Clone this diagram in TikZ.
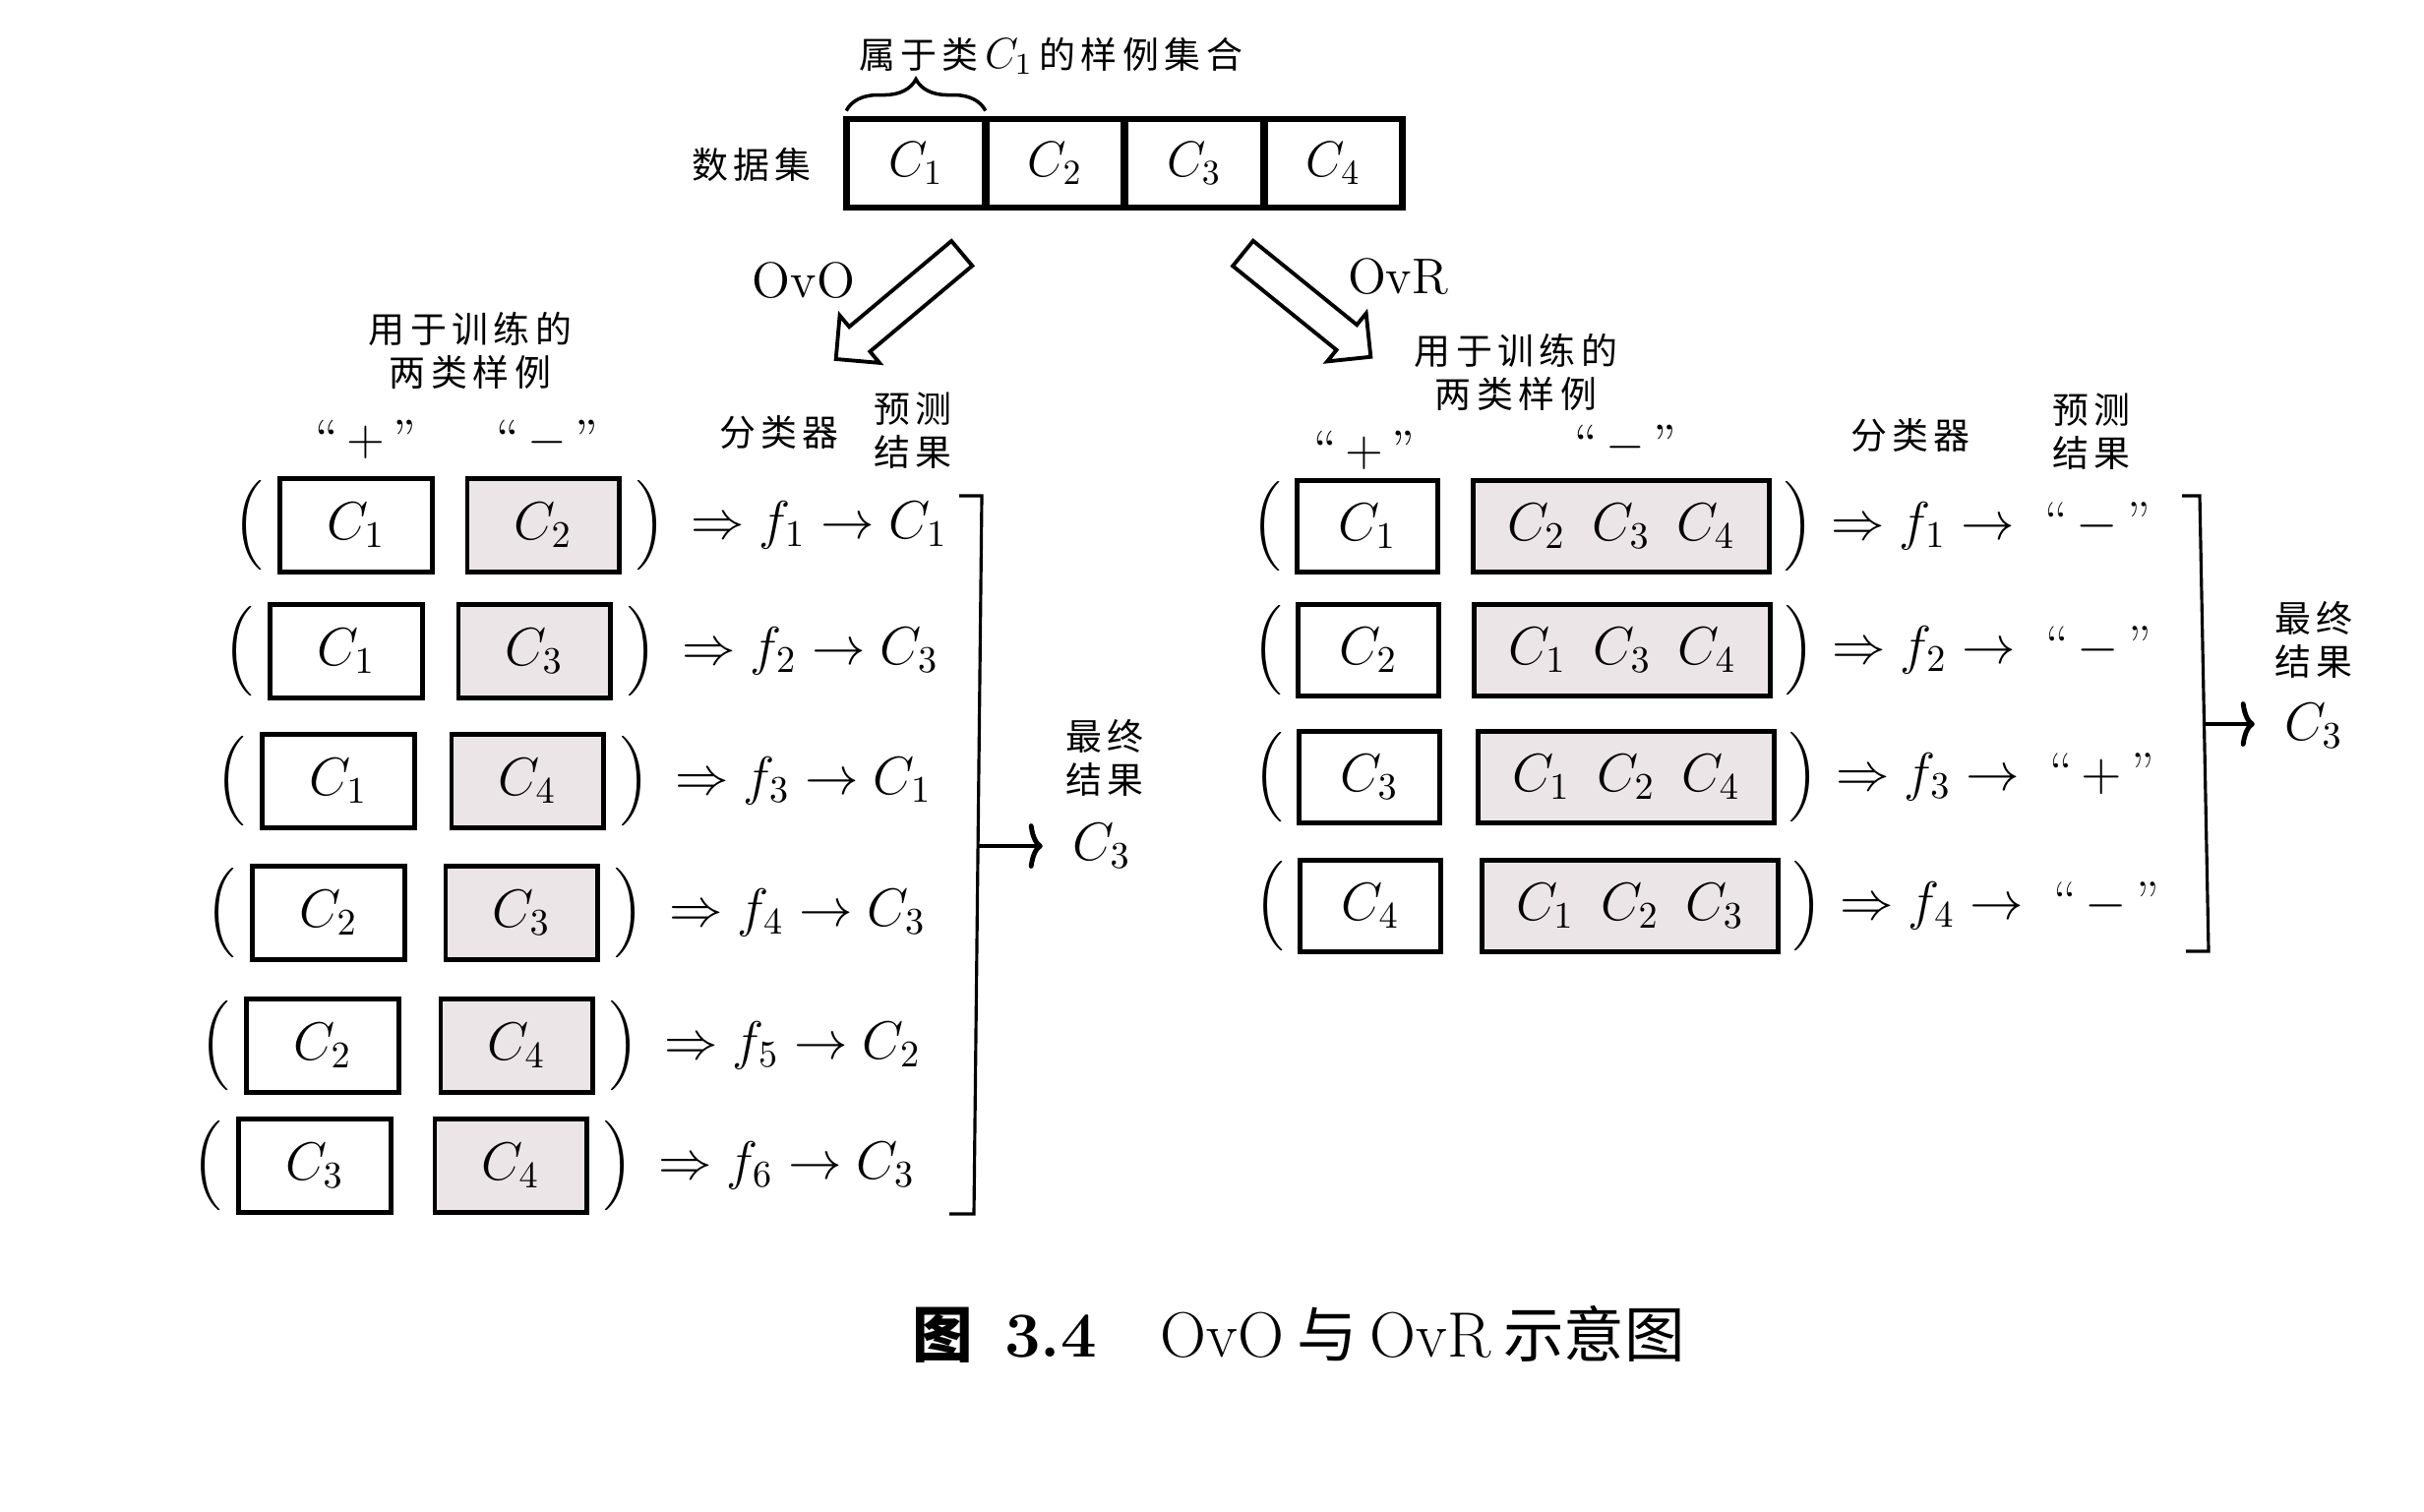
\RequirePackage{fix-cm}
\documentclass[tikz,border=0pt]{standalone}
\usepackage{amsmath}
\usepackage{fontspec}
\newfontfamily\cjk[LetterSpace=15]{Noto Sans CJK SC}
\newfontfamily\cjkcap{Noto Sans CJK SC}
\usetikzlibrary{positioning,shapes.arrows,decorations.pathreplacing,arrows.meta}
\definecolor{negfill}{RGB}{236,229,231}
\newcommand{\lbig}{$\left(\vcenter{\hrule height 0.95cm width 0pt}\right.$}
\newcommand{\rbig}{$\left.\vcenter{\hrule height 0.95cm width 0pt}\right)$}

\tikzset{
  cls/.style={draw, line width=1.4pt, inner sep=0pt, font=\fontsize{15.5}{18}\selectfont},
  posbox/.style={cls, minimum width=1.54cm, minimum height=0.95cm},
  negbox/.style={posbox, fill=negfill},
  posboxr/.style={cls, minimum width=1.43cm, minimum height=0.93cm},
  negboxr/.style={cls, fill=negfill, minimum width=3cm, minimum height=0.93cm},
  cell/.style={draw, line width=1.1pt, minimum width=1.375cm, minimum height=0.87cm, inner sep=0pt},
  zh/.style={font=\cjk\fontsize{10.5}{12.5}\selectfont, align=center, inner sep=0pt},
  par/.style={inner sep=0pt},
  pred/.style={inner sep=0pt, font=\fontsize{15.5}{18}\selectfont},
  hollow/.style={single arrow, draw, line width=1.1pt, minimum height=1.67cm, inner sep=0.145cm, single arrow head extend=0.15cm},
  bracket/.style={line width=0.9pt},
  final/.style={line width=1.4pt, -{Computer Modern Rightarrow[length=4pt, width=13pt]}, shorten >=0.2cm}
}

\begin{document}
\begin{tikzpicture}[x=0.01cm, y=-0.01cm, font=\fontsize{14.5}{17}\selectfont]
\useasboundingbox (0,0) rectangle (2464,1536);

% data set
\node[zh] (ds) at (764,167) {数据集};
\node[cell] (d1) at (931,166) {$C_1$};
\node[cell, right=0pt of d1] (d2) {$C_2$};
\node[cell, right=0pt of d2] (d3) {$C_3$};
\node[cell, right=0pt of d3] (d4) {$C_4$};
\draw[line width=1.6pt] (d1.north west) rectangle (d4.south east);
\draw[line width=1pt, decorate, decoration={brace, amplitude=0.32cm}]
  ([yshift=0.08cm]d1.north west) -- ([yshift=0.08cm]d1.north east);
\node[zh] (c1set) at (1068,57) {属于类\,{\fontsize{12.5}{14}\selectfont$C_1$}\,的样例集合};

% OvO / OvR
\node[hollow, rotate=220] (ovo) at (920,306) {};
\node (ovolab) at (817,285) {OvO};
\node[hollow, rotate=-39] (ovr) at (1322,305) {};
\node (ovrlab) at (1421,281) {OvR};

% OvO side
\node[zh] (trainL) at (478,356) {用于训练的\\两类样例};
\node (plusL) at (372,447) {$\text{“}\,{+}\,\text{”}$};
\node (minusL) at (556,447) {$\text{“}\,{-}\,\text{”}$};
\node[zh] (clfL) at (792,440) {分类器};
\node[zh] (predL) at (928,438) {预测\\结果};

\node[posbox] (p1) at (362,534) {$C_1$};
\node[negbox] (n1) at (552,534) {$C_2$};
\node[par, left=0.1cm of p1] (lp1) {\lbig};
\node[par, right=0.1cm of n1] (rp1) {\rbig};
\node[pred, right=0.7cm of n1] (f1) {$\Rightarrow f_1 \rightarrow C_1$};

\node[posbox] (p2) at (352,662) {$C_1$};
\node[negbox] (n2) at (543,662) {$C_3$};
\node[par, left=0.1cm of p2] (lp2) {\lbig};
\node[par, right=0.1cm of n2] (rp2) {\rbig};
\node[pred, right=0.7cm of n2] (f2) {$\Rightarrow f_2 \rightarrow C_3$};

\node[posbox] (p3) at (344,794) {$C_1$};
\node[negbox] (n3) at (536,794) {$C_4$};
\node[par, left=0.1cm of p3] (lp3) {\lbig};
\node[par, right=0.1cm of n3] (rp3) {\rbig};
\node[pred, right=0.7cm of n3] (f3) {$\Rightarrow f_3 \rightarrow C_1$};

\node[posbox] (p4) at (334,928) {$C_2$};
\node[negbox] (n4) at (530,928) {$C_3$};
\node[par, left=0.1cm of p4] (lp4) {\lbig};
\node[par, right=0.1cm of n4] (rp4) {\rbig};
\node[pred, right=0.7cm of n4] (f4) {$\Rightarrow f_4 \rightarrow C_3$};

\node[posbox] (p5) at (328,1063) {$C_2$};
\node[negbox] (n5) at (525,1063) {$C_4$};
\node[par, left=0.1cm of p5] (lp5) {\lbig};
\node[par, right=0.1cm of n5] (rp5) {\rbig};
\node[pred, right=0.7cm of n5] (f5) {$\Rightarrow f_5 \rightarrow C_2$};

\node[posbox] (p6) at (320,1185) {$C_3$};
\node[negbox] (n6) at (519,1185) {$C_4$};
\node[par, left=0.1cm of p6] (lp6) {\lbig};
\node[par, right=0.1cm of n6] (rp6) {\rbig};
\node[pred, right=0.7cm of n6] (f6) {$\Rightarrow f_6 \rightarrow C_3$};

\draw[bracket] (975,504) -- (998,504) -- (990,1234) -- (965,1234);
\coordinate (bl) at (994,860);
\node[zh] (finL) at (1123,770) {最终\\结果};
\node[inner sep=0.1cm, font=\fontsize{15.5}{18}\selectfont] (resL) at (1120,860) {$C_3$};
\draw[final] (bl) -- (resL.west);

% OvR side
\node[zh] (trainR) at (1541,378) {用于训练的\\两类样例};
\node (plusR) at (1387,458) {$\text{“}\,{+}\,\text{”}$};
\node (minusR) at (1652,452) {$\text{“}\,{-}\,\text{”}$};
\node[zh] (clfR) at (1942,443) {分类器};
\node[zh] (predR) at (2126,439) {预测\\结果};

\node[posboxr] (q1) at (1390,535) {$C_1$};
\node[negboxr] (m1) at (1648,535) {$C_2\enspace C_3\enspace C_4$};
\node[par, left=0.08cm of q1] (lq1) {\lbig};
\node[par, right=0.08cm of m1] (rq1) {\rbig};
\node[pred, right=0.6cm of m1] (g1) {$\Rightarrow f_1 \rightarrow\;\text{“}\,{-}\,\text{”}$};

\node[posboxr] (q2) at (1391,661) {$C_2$};
\node[negboxr] (m2) at (1649,661) {$C_1\enspace C_3\enspace C_4$};
\node[par, left=0.08cm of q2] (lq2) {\lbig};
\node[par, right=0.08cm of m2] (rq2) {\rbig};
\node[pred, right=0.6cm of m2] (g2) {$\Rightarrow f_2 \rightarrow\;\text{“}\,{-}\,\text{”}$};

\node[posboxr] (q3) at (1392,790) {$C_3$};
\node[negboxr] (m3) at (1653,790) {$C_1\enspace C_2\enspace C_4$};
\node[par, left=0.08cm of q3] (lq3) {\lbig};
\node[par, right=0.08cm of m3] (rq3) {\rbig};
\node[pred, right=0.6cm of m3] (g3) {$\Rightarrow f_3 \rightarrow\;\text{“}\,{+}\,\text{”}$};

\node[posboxr] (q4) at (1393,921) {$C_4$};
\node[negboxr] (m4) at (1657,921) {$C_1\enspace C_2\enspace C_3$};
\node[par, left=0.08cm of q4] (lq4) {\lbig};
\node[par, right=0.08cm of m4] (rq4) {\rbig};
\node[pred, right=0.6cm of m4] (g4) {$\Rightarrow f_4 \rightarrow\;\text{“}\,{-}\,\text{”}$};

\draw[bracket] (2218,504) -- (2236,504) -- (2245,967) -- (2222,967);
\coordinate (br) at (2241,736);
\node[zh] (finR) at (2352,650) {最终\\结果};
\node[inner sep=0.1cm, font=\fontsize{15.5}{18}\selectfont] (resR) at (2352,738) {$C_3$};
\draw[final] (br) -- (br -| resR.west);

% caption
\node (cap) at (1320,1356) {\fontsize{18.5}{20}\selectfont{\cjkcap\bfseries\fontsize{17.5}{20}\selectfont 图}\hspace{0.5em}\textbf{3.4}\hspace{1em}OvO\hspace{0.2em}{\cjkcap\fontsize{17.5}{20}\selectfont 与}\hspace{0.2em}OvR\hspace{0.2em}{\cjkcap\fontsize{17.5}{20}\selectfont 示意图}};
\end{tikzpicture}
\end{document}
